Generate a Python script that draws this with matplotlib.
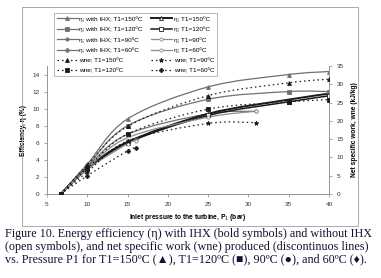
import numpy as np
import matplotlib.pyplot as plt
from matplotlib.path import Path
from matplotlib.patches import PathPatch
from matplotlib.lines import Line2D

# pressures (bar) for each temperature level
p_150 = [6.7, 10, 15, 25, 35, 40]
p_120 = [6.7, 10, 15, 25, 35, 40]
p_90 = [6.7, 10, 15, 25, 31]
p_60 = [6.7, 10, 15, 16]

# efficiency with IHX (%)
eta_ihx_150 = [0, 3.5, 8.8, 12.55, 14.0, 14.35]
eta_ihx_120 = [0, 3.3, 8.0, 11.1, 12.0, 12.0]
eta_ihx_90 = [0, 3.2, 7.0, 9.4, 9.7]
eta_ihx_60 = [0, 3.0, 6.1, 6.4]

# efficiency without IHX (%)
eta_150 = [0, 3.0, 6.1, 9.4, 11.06, 11.76]
eta_120 = [0, 2.9, 6.0, 9.2, 10.8, 11.5]
eta_90 = [0, 3.0, 6.6, 9.0, 9.7]
eta_60 = [0, 2.9, 5.9, 6.2]

# net specific work (kJ/kg)
wne_150 = [0, 8.0, 18.5, 26.9, 30.4, 31.4]
wne_120 = [0, 7.0, 16.4, 23.2, 25.2, 25.8]
wne_90 = [0, 6.0, 14.5, 19.3, 19.5]
wne_60 = [0, 5.0, 11.8, 12.5]


def smooth_path(x, y):
    # Excel-like smoothed line: cubic bezier through the points
    pts = np.column_stack([x, y]).astype(float)
    verts = [pts[0]]
    codes = [Path.MOVETO]
    n = len(pts)
    for i in range(n - 1):
        p0 = pts[max(i - 1, 0)]
        p1 = pts[i]
        p2 = pts[i + 1]
        p3 = pts[min(i + 2, n - 1)]
        c1 = p1 + (p2 - p0) / 6.0
        c2 = p2 - (p3 - p1) / 6.0
        verts += [c1, c2, p2]
        codes += [Path.CURVE4] * 3
    return Path(verts, codes)


def draw(ax, x, y, color, lw, ls, marker, mfc, ms=2.8):
    patch = PathPatch(smooth_path(x, y), fill=False, edgecolor=color,
                      lw=lw, ls=ls, transform=ax.transData, zorder=3)
    ax.add_patch(patch)
    ax.plot(x, y, ls='none', marker=marker, ms=ms, mfc=mfc,
            mec=color, mew=0.6, zorder=4)
    return Line2D([], [], color=color, lw=lw, ls=ls, marker=marker,
                  ms=ms, mfc=mfc, mec=color, mew=0.6)


plt.rcParams['font.family'] = ['Liberation Sans', 'DejaVu Sans']

fig = plt.figure(figsize=(3.81, 2.78), dpi=100)
ax = fig.add_axes([47 / 381, 1 - 194 / 278, 282 / 381, 128 / 278])
ax2 = ax.twinx()

g1 = '#707070'
g2 = '#8c8c8c'
dk = '#1a1a1a'
dots = (0, (1.2, 2.4))

h = {}
h['ihx150'] = draw(ax, p_150, eta_ihx_150, g1, 0.9, '-', '^', g1)
h['ihx120'] = draw(ax, p_120, eta_ihx_120, g1, 0.9, '-', 's', g1)
h['ihx90'] = draw(ax, p_90, eta_ihx_90, g1, 0.9, '-', 'o', g1, 2.3)
h['ihx60'] = draw(ax, p_60, eta_ihx_60, g1, 0.9, '-', 'P', g1)
h['n150'] = draw(ax, p_150, eta_150, dk, 1.4, '-', '^', 'white')
h['n120'] = draw(ax, p_120, eta_120, dk, 1.1, '-', 's', 'white')
h['n90'] = draw(ax, p_90, eta_90, g2, 0.9, '-', 'o', 'white', 2.3)
h['n60'] = draw(ax, p_60, eta_60, g2, 0.9, '-', 'o', 'white', 2.3)
h['w150'] = draw(ax2, p_150, wne_150, dk, 0.9, dots, '^', dk)
h['w120'] = draw(ax2, p_120, wne_120, dk, 0.9, dots, 's', dk)
h['w90'] = draw(ax2, p_90, wne_90, dk, 0.9, dots, '*', dk, 3.3)
h['w60'] = draw(ax2, p_60, wne_60, dk, 0.9, dots, 'P', dk)

ax.set_xlim(5, 40)
ax.set_ylim(0, 15)
ax2.set_ylim(0, 35)
ax.set_xticks(range(5, 41, 5))
ax.set_yticks(range(0, 15, 2))
ax2.set_yticks(range(0, 36, 5))

for a in (ax, ax2):
    for s in a.spines.values():
        s.set_color('#999999')
        s.set_linewidth(0.7)
    a.spines['top'].set_visible(False)
    a.tick_params(labelsize=4.6, length=2.5, width=0.6, color='#999999',
                  pad=3, labelcolor='#333333')

ax.set_ylabel('Efficiency, η (%)', fontsize=4.8, fontweight='bold', labelpad=4)
ax2.set_ylabel('Net specific work, wne (kJ/kg)', fontsize=4.8,
               fontweight='bold', rotation=90, labelpad=5)
ax.set_xlabel('Inlet pressure to the turbine, P$_1$ (bar)', fontsize=4.8,
              fontweight='bold', labelpad=4)

handles = [h['ihx150'], h['ihx120'], h['ihx90'], h['ihx60'], h['w150'], h['w120'],
           h['n150'], h['n120'], h['n90'], h['n60'], h['w90'], h['w60']]
labels = ['η; with IHX; T1=150ºC', 'η; with IHX; T1=120ºC',
          'η; with IHX; T1=90ºC', 'η; with IHX; T1=60ºC',
          'wne; T1=150ºC', 'wne; T1=120ºC',
          'η; T1=150ºC', 'η; T1=120ºC', 'η; T1=90ºC', 'η; T1=60ºC',
          'wne; T1=90ºC', 'wne; T1=60ºC']
leg = fig.legend(handles, labels, ncol=2, loc='upper left',
                 bbox_to_anchor=(51 / 381, 1 - 10 / 278), fontsize=4.6,
                 frameon=True, fancybox=False, edgecolor='#999999',
                 handlelength=3.2, labelspacing=0.75, columnspacing=1.3,
                 handletextpad=0.3, borderpad=0.45)
leg.get_frame().set_linewidth(0.6)
leg.set_zorder(10)

# chart border
fig.add_artist(plt.Rectangle((22 / 381, 1 - 226 / 278), 336 / 381, 219 / 278,
                             transform=fig.transFigure, fill=False,
                             edgecolor='#aaaaaa', lw=0.7))

caption = ('Figure 10. Energy efficiency (η) with IHX (bold symbols) and without IHX\n'
           '(open symbols), and net specific work (wne) produced (discontinuos lines)\n'
           'vs. Pressure P1 for T1=150ºC (▲), T1=120ºC (■), 90ºC (●), and 60ºC (♦).')
fig.text(5 / 381, 1 - 228 / 278, caption, ha='left', va='top', fontsize=8.75,
         family=['Liberation Serif', 'DejaVu Serif'], color='#111133',
         linespacing=1.08)

fig.savefig('out.png', dpi=100)
